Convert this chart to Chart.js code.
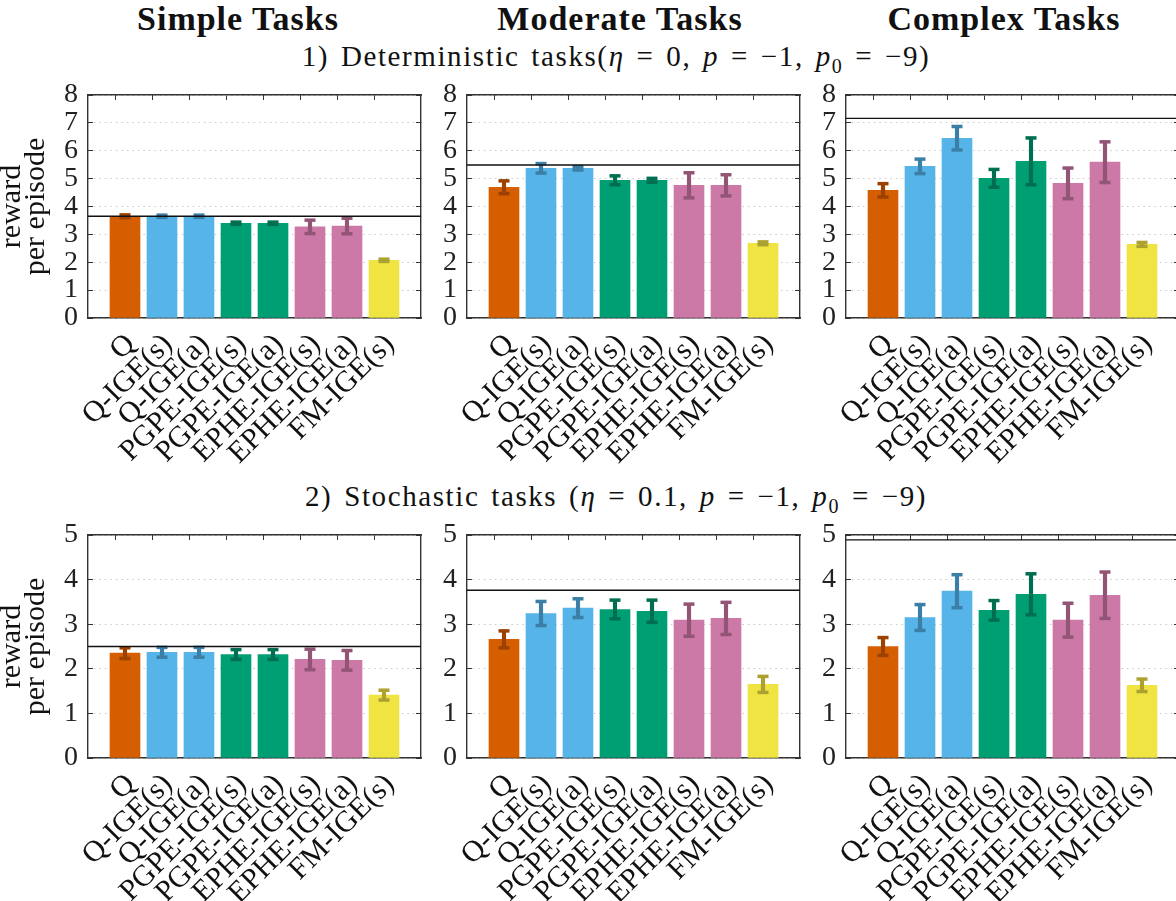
<!DOCTYPE html>
<html>
<head>
<meta charset="utf-8">
<script src="https://cdn.jsdelivr.net/npm/chart.js@4"></script>
<style>
  html, body { margin: 0; padding: 0; background: #fff; overflow: hidden; }
  body { width: 1176px; height: 901px; position: relative; font-family: 'Liberation Serif', serif; color: #111; }
  canvas { position: absolute; }
  .title { position: absolute; font-weight: bold; font-size: 34px; letter-spacing: 1px; transform: translateX(-50%); white-space: nowrap; }
  .sub { position: absolute; font-size: 29px; letter-spacing: 1.6px; word-spacing: 3px; transform: translateX(-50%); white-space: nowrap; }
  .sub sub { font-size: 20px; }
</style>
</head>
<body>
<div class="title" style="left:238px; top:0px;">Simple Tasks</div>
<div class="title" style="left:620px; top:0px;">Moderate Tasks</div>
<div class="title" style="left:1004px; top:0px;">Complex Tasks</div>
<div class="sub" style="left:616px; top:40px;">1) Deterministic tasks(<i>η</i> = 0, <i>p</i> = −1, <i>p</i><sub>0</sub> = −9)</div>
<div class="sub" style="left:616px; top:480px;">2) Stochastic tasks (<i>η</i> = 0.1, <i>p</i> = −1, <i>p</i><sub>0</sub> = −9)</div>

<canvas id="detSimple"></canvas>
<canvas id="detModerate"></canvas>
<canvas id="detComplex"></canvas>
<canvas id="stoSimple"></canvas>
<canvas id="stoModerate"></canvas>
<canvas id="stoComplex"></canvas>

<script>
// categories
const methods = ['Q', 'Q-IGE(s)', 'Q-IGE(a)', 'PGPE-IGE(s)', 'PGPE-IGE(a)', 'EPHE-IGE(s)', 'EPHE-IGE(a)', 'FM-IGE(s)'];

// 1) deterministic tasks
const detSimpleMean   = [3.65, 3.65, 3.65, 3.40, 3.40, 3.27, 3.30, 2.07];
const detSimpleErr    = [0.05, 0.04, 0.04, 0.04, 0.04, 0.24, 0.28, 0.04];
const detSimpleOpt    = 3.65;
const detModerateMean = [4.69, 5.37, 5.37, 4.94, 4.94, 4.76, 4.76, 2.68];
const detModerateErr  = [0.23, 0.17, 0.06, 0.16, 0.07, 0.45, 0.38, 0.05];
const detModerateOpt  = 5.49;
const detComplexMean  = [4.58, 5.44, 6.45, 5.01, 5.62, 4.83, 5.59, 2.64];
const detComplexErr   = [0.24, 0.26, 0.42, 0.32, 0.84, 0.55, 0.73, 0.07];
const detComplexOpt   = 7.16;

// 2) stochastic tasks
const stoSimpleMean   = [2.35, 2.37, 2.37, 2.32, 2.32, 2.21, 2.19, 1.41];
const stoSimpleErr    = [0.12, 0.11, 0.11, 0.11, 0.11, 0.23, 0.22, 0.11];
const stoSimpleOpt    = 2.50;
const stoModerateMean = [2.66, 3.24, 3.36, 3.33, 3.29, 3.09, 3.13, 1.65];
const stoModerateErr  = [0.19, 0.27, 0.21, 0.21, 0.25, 0.36, 0.36, 0.18];
const stoModerateOpt  = 3.76;
const stoComplexMean  = [2.50, 3.15, 3.74, 3.31, 3.67, 3.09, 3.65, 1.63];
const stoComplexErr   = [0.20, 0.29, 0.37, 0.22, 0.46, 0.38, 0.52, 0.14];
const stoComplexOpt   = 4.89;

// y axis ticks
const detTicks = [0, 1, 2, 3, 4, 5, 6, 7, 8];
const stoTicks = [0, 1, 2, 3, 4, 5];

const barColors = ['#d55e00', '#56b4e9', '#56b4e9', '#009e73', '#009e73', '#cc79a7', '#cc79a7', '#f0e442'];
const errColors = ['#9c4100', '#3b7ea6', '#3b7ea6', '#006e50', '#006e50', '#925576', '#925576', '#aca130'];

const PLOT_W = 333, PLOT_H = 223, PAD_TOP = 20, X_AXIS_H = 150, PAD_RIGHT = 10;

// kill the automatic label padding so the plot box lands where we put it
const noPad = s => { s.paddingTop = 0; s.paddingBottom = 0; s.paddingLeft = 0; s.paddingRight = 0; };

function makePanel(id, mean, err, opt, yTicks, plotLeft, plotTop, withTitle) {
    const yw = withTitle ? 88 : 50;
    const canvas = document.getElementById(id);
    const w = yw + PLOT_W + PAD_RIGHT;
    const h = PAD_TOP + PLOT_H + X_AXIS_H;
    canvas.width = w; canvas.height = h;
    canvas.style.width = w + 'px'; canvas.style.height = h + 'px';
    canvas.style.left = (plotLeft - yw) + 'px';
    canvas.style.top = (plotTop - PAD_TOP) + 'px';

    const caps = [], capColors = [];
    mean.forEach((m, i) => {
        caps.push({ x: i + 1, y: m + err[i] }, { x: i + 1, y: m - err[i] });
        capColors.push(errColors[i], errColors[i]);
    });
    const ymax = yTicks[yTicks.length - 1];
    const xTicks = scale => { scale.ticks = methods.map((m, i) => ({ value: i + 0.75 })); };
    const yTickBuild = scale => { scale.ticks = yTicks.map(v => ({ value: v })); };

    new Chart(canvas.getContext('2d'), {
        type: 'bar',
        data: {
            datasets: [
                {
                    type: 'line',
                    data: [{ x: 0, y: opt }, { x: 9, y: opt }],
                    borderColor: '#111',
                    borderWidth: 1.4,
                    pointRadius: 0,
                    order: 0
                },
                {
                    type: 'scatter',
                    data: caps,
                    pointStyle: 'line',
                    pointRadius: 5.5,
                    pointBorderWidth: 3.5,
                    pointBorderColor: capColors,
                    order: 1
                },
                {
                    data: mean.map((m, i) => ({ x: i + 1, y: [m - err[i], m + err[i]] })),
                    backgroundColor: errColors,
                    barThickness: 3.5,
                    grouped: false,
                    order: 2
                },
                {
                    data: mean.map((m, i) => ({ x: i + 1, y: m })),
                    backgroundColor: barColors,
                    barThickness: 30,
                    grouped: false,
                    order: 3
                }
            ]
        },
        options: {
            responsive: false,
            animation: false,
            layout: { padding: { top: PAD_TOP, right: PAD_RIGHT, left: 0, bottom: 0 } },
            plugins: { legend: { display: false }, tooltip: { enabled: false } },
            scales: {
                x: {
                    type: 'linear', position: 'bottom', min: 0, max: 9, offset: false,
                    afterBuildTicks: xTicks,
                    afterFit: s => { s.height = X_AXIS_H; noPad(s); },
                    grid: { display: true, drawOnChartArea: false, drawTicks: true, tickLength: -5, tickColor: '#333', offset: false },
                    border: { color: '#333', width: 1.4 },
                    ticks: {
                        autoSkip: false, minRotation: 45, maxRotation: 45, padding: 14, labelOffset: 15,
                        color: '#111', font: { family: 'Liberation Serif', size: 30 },
                        callback: (v, i) => methods[i]
                    }
                },
                x2: {
                    type: 'linear', position: 'top', min: 0, max: 9, offset: false,
                    afterBuildTicks: xTicks,
                    afterFit: s => { s.height = 0; noPad(s); },
                    grid: { display: true, drawOnChartArea: false, drawTicks: true, tickLength: -5, tickColor: '#333', offset: false },
                    border: { color: '#333', width: 1.4 },
                    ticks: { display: false }
                },
                y: {
                    position: 'left', min: 0, max: ymax,
                    afterBuildTicks: yTickBuild,
                    afterFit: s => { s.width = yw; noPad(s); },
                    grid: { color: '#c8c8c8', lineWidth: 1, drawTicks: true, tickLength: -5, tickColor: '#333' },
                    border: { color: '#333', width: 1.4, dash: [1.5, 4] },
                    ticks: { autoSkip: false, padding: 15, color: '#222', font: { family: 'Liberation Serif', size: 28 } },
                    title: {
                        display: withTitle, text: ['reward', 'per episode'],
                        color: '#111', font: { family: 'Liberation Serif', size: 30, lineHeight: 0.8 },
                        padding: 0
                    }
                },
                y2: {
                    position: 'right', min: 0, max: ymax,
                    afterBuildTicks: yTickBuild,
                    afterFit: s => { s.width = 0; noPad(s); },
                    grid: { drawOnChartArea: false, drawTicks: true, tickLength: -5, tickColor: '#333' },
                    border: { color: '#333', width: 1.4 },
                    ticks: { display: false }
                }
            }
        }
    });
}

makePanel('detSimple',   detSimpleMean,   detSimpleErr,   detSimpleOpt,   detTicks, 88,  95,  true);
makePanel('detModerate', detModerateMean, detModerateErr, detModerateOpt, detTicks, 467, 95,  false);
makePanel('detComplex',  detComplexMean,  detComplexErr,  detComplexOpt,  detTicks, 846, 95,  false);
makePanel('stoSimple',   stoSimpleMean,   stoSimpleErr,   stoSimpleOpt,   stoTicks, 88,  535, true);
makePanel('stoModerate', stoModerateMean, stoModerateErr, stoModerateOpt, stoTicks, 467, 535, false);
makePanel('stoComplex',  stoComplexMean,  stoComplexErr,  stoComplexOpt,  stoTicks, 846, 535, false);
</script>
</body>
</html>
